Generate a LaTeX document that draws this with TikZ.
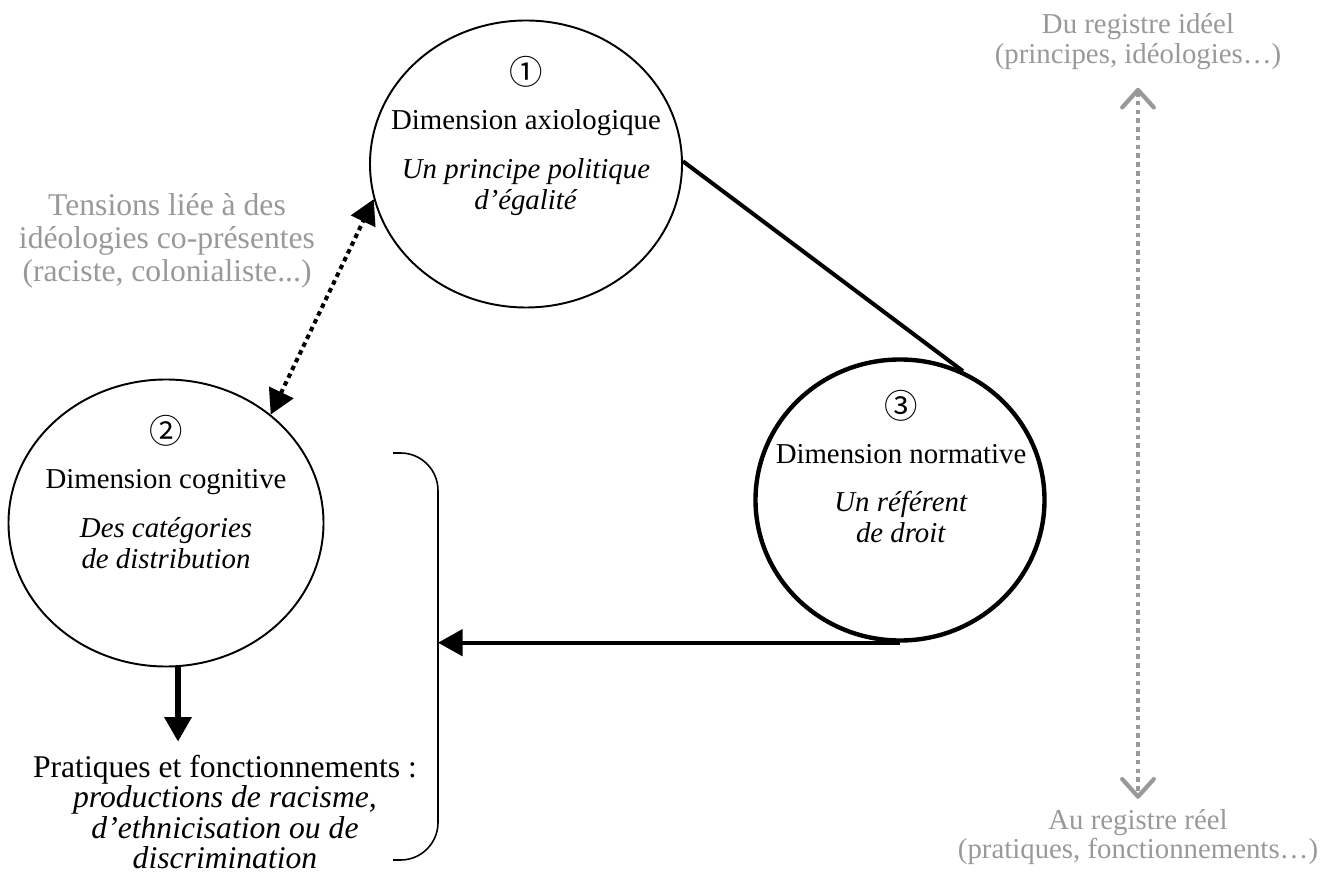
\documentclass[tikz,border=0pt]{standalone}
\usepackage{fontspec}
\setmainfont{Liberation Serif}
\newfontfamily\circfont{Noto Sans CJK JP}
\usetikzlibrary{shapes.geometric}
\usetikzlibrary{arrows.meta}
\usetikzlibrary{positioning}
\definecolor{reggray}{gray}{0.6}
\newcommand{\dimnum}[1]{{\circfont\fontsize{19}{19}\selectfont #1}}
\tikzset{
  dimension/.style={ellipse,draw,line width=1.1pt,inner sep=0pt},
  dimtext/.style={align=center,font=\fontsize{16.4}{17.6}\selectfont},
  graytext/.style={align=center,text=reggray},
  bigtip/.style={-{Triangle[length=14pt,width=15pt]}},
}

\begin{document}
\begin{tikzpicture}[x=1cm,y=1cm]
\useasboundingbox (0,0) rectangle (26.74,-17.68);
\node[dimension,minimum width=6.24cm,minimum height=5.74cm] (axio) at (10.52,-3.28) {};
\node[dimension,minimum width=6.3cm,minimum height=5.74cm] (cogn) at (3.32,-10.46) {};
\node[dimension,line width=2.5pt,minimum width=5.78cm,minimum height=5.62cm] (norm) at (18.0,-10.0) {};
\node[dimtext] (axiotxt) at ([yshift=0.56cm]axio.center) {\dimnum{①}\\[8pt] Dimension axiologique\\[10pt] \textit{Un principe politique}\\ \textit{d’égalité}};
\node[dimtext] (cogntxt) at ([yshift=0.62cm]cogn.center) {\dimnum{②}\\[8pt] Dimension cognitive\\[10pt] \textit{Des catégories}\\ \textit{de distribution}};
\node[dimtext] (normtxt) at ([xshift=0.02cm,yshift=0.67cm]norm.center) {\dimnum{③}\\[8pt] Dimension normative\\[10pt] \textit{Un référent}\\ \textit{de droit}};
\node[graytext,font=\fontsize{18}{18.6}\selectfont] (tens) at (3.34,-4.82) {Tensions liée à des\\idéologies co-présentes\\(raciste, colonialiste...)};
\node[align=center,font=\fontsize{18}{17.4}\selectfont] (prat) at (4.5,-16.24) {Pratiques et fonctionnements :\\ \textit{productions de racisme,}\\ \textit{d’ethnicisation ou de}\\ \textit{discrimination}};
\node[graytext,font=\fontsize{16.4}{17}\selectfont] (ideal) at (22.76,-0.83) {Du registre idéel\\(principes, idéologies…)};
\node[graytext,font=\fontsize{16.4}{17}\selectfont] (reel) at (22.76,-16.74) {Au registre réel\\(pratiques, fonctionnements…)};
\coordinate (brtop) at (8.76,-9.06);
\coordinate (brbot) at (8.76,-17.2);
\draw[line width=0.9pt,rounded corners=0.75cm] (7.86,-9.06) -- (brtop) -- (brbot) -- (7.86,-17.2);
\draw[line width=2.3pt] (axio.1) -- (norm.64);
\draw[bigtip,line width=2.2pt] (norm.south) -- (norm.south -| brtop);
\draw[bigtip,line width=3.2pt,shorten >=0.14cm] ([xshift=0.24cm]cogn.south) -- ([xshift=0.24cm]cogn.south |- prat.north);
\draw[{Triangle[length=14pt,width=15pt]}-{Triangle[length=14pt,width=15pt]},line width=2.3pt,dash pattern=on 2.6pt off 2.3pt] (cogn.46) -- (axio.193);
\draw[{Straight Barb[length=10pt,width=18pt,round]}-{Straight Barb[length=10pt,width=18pt,round]},draw=reggray,line width=2.4pt,dash pattern=on 2.6pt off 2.4pt,shorten <=0.24cm,shorten >=0.08cm] (ideal) -- (reel);
\end{tikzpicture}
\end{document}
